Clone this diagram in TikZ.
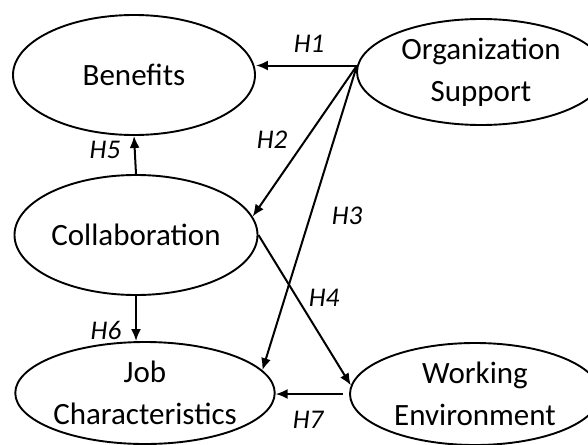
\documentclass[tikz,border=0pt]{standalone}
\usepackage{fontspec}
\setmainfont{Carlito}
\usepackage{tikz}
\usetikzlibrary{shapes,arrows}
\usetikzlibrary{positioning}
\usetikzlibrary{arrows.meta}
\tikzset{>=stealth}
\tikzstyle{line} = [draw, line width=2pt, -{Latex[length=12pt,width=10pt]}]

\begin{document}
\begin{tikzpicture}[x=1pt, y=-1pt,
      construct/.style={draw,
      ellipse,
      line width=1.9pt,
      inner sep=0pt,
      align=center,
      font=\fontsize{31}{42}\selectfont},
      hyp/.style={font=\fontsize{27}{30}\selectfont\itshape}]
    \clip (0,0) rectangle (588,444);
    \node [construct, minimum width=242pt, minimum height=120pt] (ben) at (134,75) {Benefits};
    \node [construct, minimum width=248pt, minimum height=106pt] (org) at (481,72) {Organization\\Support};
    \node [construct, minimum width=243pt, minimum height=120pt] (col) at (136,235) {Collaboration};
    \node [construct, minimum width=244pt, minimum height=102pt] (job) at (145,393) {Job\\Characteristics};
    \node [construct, minimum width=250pt, minimum height=102pt] (wrk) at (475,394) {Working\\Environment};
    \coordinate (hub) at (org.177);
    %% Hypotheses
    \path [line] (hub) -- (hub -| ben.east);
    \path [line] (hub) -- (col.9);
    \path [line] (hub) -- (job.11);
    \path [line] (col.east) -- (wrk.176);
    \path [line] (col.north) -- (ben.south);
    \path [line] (col.south) -- (col.south |- job.north);
    \path [line] ([xshift=-6pt]wrk.west) -- (wrk.west -| job.east);
    %% Labels
    \node [hyp] (h1) at (309,44) {H1};
    \node [hyp] (h2) at (272,140) {H2};
    \node [hyp] (h3) at (347,216) {H3};
    \node [hyp] (h4) at (324,298) {H4};
    \node [hyp] (h5) at (105,150) {H5};
    \node [hyp] (h6) at (106,330) {H6};
    \node [hyp] (h7) at (308,420) {H7};
\end{tikzpicture}
\end{document}
